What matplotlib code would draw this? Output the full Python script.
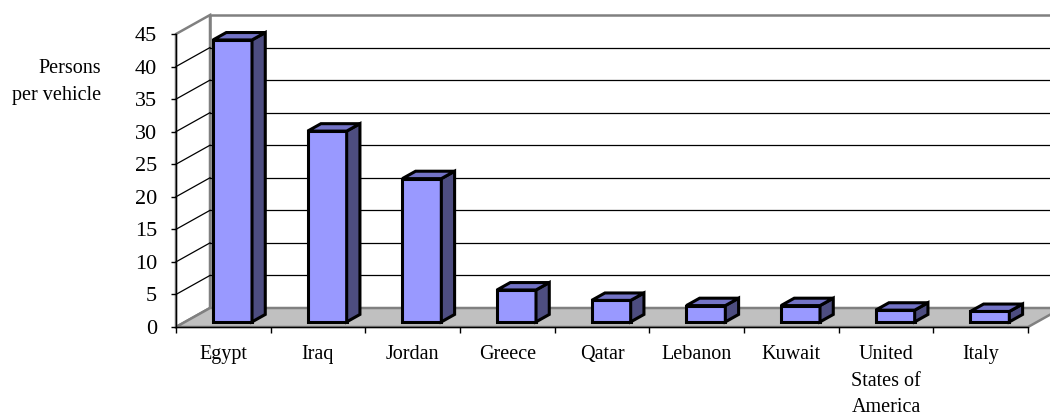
import matplotlib
matplotlib.use('Agg')
import matplotlib.pyplot as plt
from matplotlib.patches import Polygon

# ---- data ----
categories = ['Egypt', 'Iraq', 'Jordan', 'Greece', 'Qatar', 'Lebanon', 'Kuwait',
              'United\nStates of\nAmerica', 'Italy']
values = [43.3, 29.3, 22.0, 4.9, 3.3, 2.5, 2.5, 1.8, 1.6]
yticks = [0, 5, 10, 15, 20, 25, 30, 35, 40, 45]
ylabel = 'Persons\nper vehicle'

# ---- style ----
plt.rcParams['font.family'] = ['Liberation Serif', 'DejaVu Serif']
FRONT = '#9999FF'
TOP = '#7373C6'
SIDE = '#4D4D80'
FLOOR = '#C0C0C0'
WALLEDGE = '#808080'

fig = plt.figure(figsize=(10.5, 4.18), dpi=100)
W, H = 1050, 418
ax = fig.add_axes([176 / W, 91 / H, 852 / W, 293 / H])
n = len(categories)
ymax = yticks[-1]
ax.set_xlim(0, n)
ax.set_ylim(0, ymax)
ax.patch.set_visible(False)

# depth vector expressed in data units (3-D look)
px_x = 852 / n
px_y = 293 / ymax
DX = 34 / px_x
DY = 19 / px_y

# back wall
ax.add_patch(Polygon([(DX, DY), (n + DX, DY), (n + DX, ymax + DY), (DX, ymax + DY)],
                     closed=True, facecolor='white', edgecolor=WALLEDGE, lw=1.8,
                     clip_on=False, zorder=0.5))
# left wall
ax.add_patch(Polygon([(0, 0), (0, ymax), (DX, ymax + DY), (DX, DY)],
                     closed=True, facecolor='white', edgecolor=WALLEDGE, lw=1.8,
                     clip_on=False, zorder=0.6))
# floor
ax.add_patch(Polygon([(0, 0), (n, 0), (n + DX, DY), (DX, DY)],
                     closed=True, facecolor=FLOOR, edgecolor=WALLEDGE, lw=1.8,
                     clip_on=False, zorder=0.7))
# gridlines
for v in yticks[1:-1]:
    ax.plot([DX, n + DX], [v + DY, v + DY], color='black', lw=0.9,
            clip_on=False, zorder=0.8)
    ax.plot([0, DX], [v, v + DY], color='black', lw=0.9,
            clip_on=False, zorder=0.8)

# bars
d0, d1 = 0.27, 0.66
hw = 39 / px_x / 2
for i, v in enumerate(values):
    cx = i + 0.5 + d0 * DX
    by = d0 * DY
    x0, x1 = cx - hw, cx + hw
    ddx, ddy = (d1 - d0) * DX, (d1 - d0) * DY
    kw = dict(closed=True, edgecolor='black', lw=2.2, joinstyle='miter',
              clip_on=False)
    ax.add_patch(Polygon([(x0, by), (x1, by), (x1, by + v), (x0, by + v)],
                         facecolor=FRONT, zorder=3, **kw))
    ax.add_patch(Polygon([(x1, by), (x1 + ddx, by + ddy), (x1 + ddx, by + v + ddy),
                          (x1, by + v)], facecolor=SIDE, zorder=3, **kw))
    ax.add_patch(Polygon([(x0, by + v), (x1, by + v), (x1 + ddx, by + v + ddy),
                          (x0 + ddx, by + v + ddy)], facecolor=TOP, zorder=3, **kw))

# axes
for s in ['top', 'right']:
    ax.spines[s].set_visible(False)
for s in ['left', 'bottom']:
    ax.spines[s].set_color('black')
    ax.spines[s].set_linewidth(1.0)
    ax.spines[s].set_zorder(2)

ax.set_yticks(yticks)
ax.set_yticklabels([str(t) for t in yticks], fontsize=16)
ax.tick_params(axis='y', direction='out', length=3.5, width=1, pad=10, colors='black')

ax.set_xticks([i + 0.5 for i in range(n)])
ax.set_xticklabels(categories, fontsize=14.5, linespacing=1.55)
ax.tick_params(axis='x', which='major', length=0, pad=13)
ax.set_xticks(range(n + 1), minor=True)
ax.tick_params(axis='x', which='minor', direction='out', length=4.5, width=1)

fig.text(101 / W, 1 - 82 / H, ylabel, ha='right', va='center', fontsize=14.5,
         multialignment='right', linespacing=1.62)

fig.savefig('out.png', dpi=100)
